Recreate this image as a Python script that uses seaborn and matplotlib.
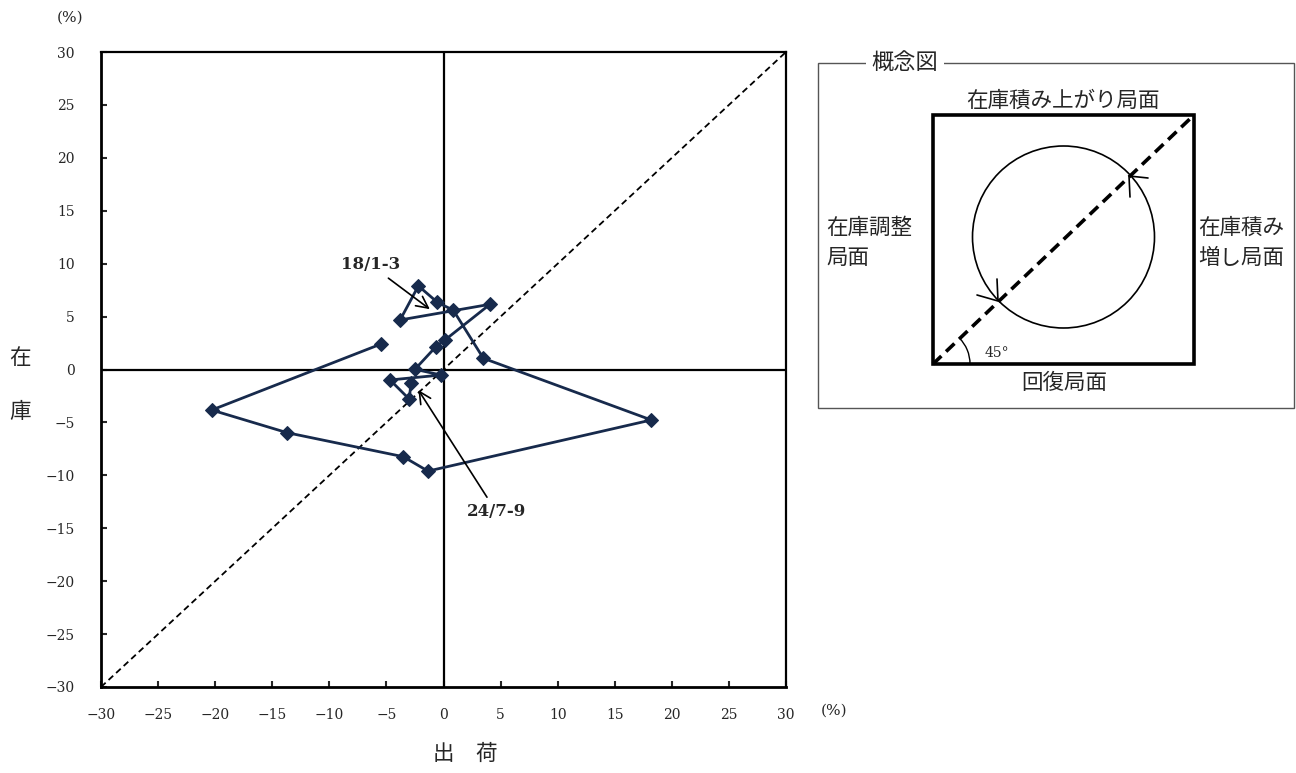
import matplotlib
matplotlib.use("Agg")
import matplotlib.pyplot as plt
import seaborn as sns
import pandas as pd
from matplotlib.patches import Rectangle, Circle, Arc

# ---- data (shipments YoY %, inventory YoY %) in path order ----
shipments = [-5.47, -20.3, -13.7, -3.52, -1.36, 18.2, 3.49, 0.86, -0.54, -2.2,
             -3.8, 4.07, 0.13, -0.66, -2.5, -0.22, -4.68, -3.0, -2.85]
inventory = [2.41, -3.83, -5.97, -8.24, -9.6, -4.77, 1.06, 5.6, 6.35, 7.9,
             4.68, 6.16, 2.79, 2.16, 0.02, -0.52, -0.99, -2.8, -1.3]
ticks = list(range(-30, 31, 5))
start_label = "18/1-3"
start_point = (-1.2, 5.7)
end_label = "24/7-9"
end_point = (-2.2, -1.94)

sns.set_style("white")
plt.rcParams["font.family"] = ["DejaVu Serif", "Noto Sans CJK JP"]
plt.rcParams["axes.unicode_minus"] = True
JP = ["Noto Sans CJK JP", "DejaVu Sans"]

W, H = 1296, 773
fig = plt.figure(figsize=(W / 100, H / 100), dpi=100)

def fx(px):
    return px / W

def fy(py):
    return 1 - py / H

# ---- main scatter/path chart ----
ax = fig.add_axes([fx(101), fy(687), fx(786) - fx(101), fy(52) - fy(687)])
df = pd.DataFrame({"出荷": shipments, "在庫": inventory})
ax.axhline(0, color="black", lw=1.6, zorder=2)
ax.axvline(0, color="black", lw=1.6, zorder=2)
ax.plot([ticks[0], ticks[-1]], [ticks[0], ticks[-1]], ls=(0, (3.5, 2.2)),
        color="black", lw=1.3, zorder=2)
sns.lineplot(data=df, x="出荷", y="在庫", sort=False, estimator=None, ax=ax,
             color="#172a4c", lw=2.0, marker="D", markersize=7,
             markeredgecolor="#172a4c", zorder=5)
ax.set_xlim(ticks[0], ticks[-1])
ax.set_ylim(ticks[0], ticks[-1])
ax.set_xticks(ticks)
ax.set_yticks(ticks)
ax.set_xlabel("")
ax.set_ylabel("")
ax.tick_params(axis="both", direction="in", length=4, width=1.5,
               labelsize=10, bottom=True, left=True, top=False, right=False)
ax.tick_params(axis="x", pad=15)
ax.tick_params(axis="y", pad=19)
for s in ["left", "bottom"]:
    ax.spines[s].set_linewidth(2.0)
for s in ["top", "right"]:
    ax.spines[s].set_linewidth(1.6)
for s in ax.spines.values():
    s.set_color("black")

arrow = dict(arrowstyle="->,head_length=0.7,head_width=0.35", color="black",
             lw=1.2, shrinkA=2, shrinkB=0)
ax.annotate(start_label, xy=start_point, xytext=(-6.4, 9.9), ha="center",
            va="center", fontsize=12, fontweight="bold", arrowprops=arrow, zorder=6)
ax.annotate(end_label, xy=end_point, xytext=(4.6, -13.4), ha="center",
            va="center", fontsize=12, fontweight="bold", arrowprops=arrow, zorder=6)

fig.text(fx(70), fy(18), "(%)", ha="center", va="center", fontsize=11)
fig.text(fx(834), fy(711), "(%)", ha="center", va="center", fontsize=11)
fig.text(fx(20), fy(358), "在", ha="center", va="center", fontsize=15.5, family=JP)
fig.text(fx(20), fy(412), "庫", ha="center", va="center", fontsize=15.5, family=JP)
fig.text(fx(465), fy(754), "出　荷", ha="center", va="center", fontsize=15.5, family=JP)

# ---- concept diagram ----
bx0, by0, bx1, by1 = 817, 62, 1294, 408
ax2 = fig.add_axes([fx(bx0), fy(by1), fx(bx1) - fx(bx0), fy(by0) - fy(by1)])
ax2.set_xlim(bx0, bx1)
ax2.set_ylim(by1, by0)
ax2.axis("off")
ax2.add_patch(Rectangle((bx0 + 0.5, by0 + 0.5), bx1 - bx0 - 1, by1 - by0 - 1,
                        fill=False, ec="#555555", lw=1.0, clip_on=False))
sq0, sq1, sq2, sq3 = 933, 115, 1194, 364
ax2.add_patch(Rectangle((sq0, sq1), sq2 - sq0, sq3 - sq1, fill=False,
                        ec="black", lw=2.6, clip_on=False))
ax2.add_patch(Circle((1063.5, 237), 91, fill=False, ec="black", lw=1.2))
ax2.plot([sq0, sq2], [sq3, sq1], color="black", lw=2.6, ls=(0, (3.2, 1.8)),
         solid_capstyle="butt")
ax2.add_patch(Arc((sq0, sq3), 74, 74, theta1=315, theta2=360, ec="black", lw=1.0))
ax2.plot([1148, 1129, 1130], [178, 176, 197], color="black", lw=1.2)
ax2.plot([977, 998, 997], [295, 301, 279], color="black", lw=1.2)

ax2.text(905, 62, "概念図", ha="center", va="center", fontsize=16, family=JP,
         bbox=dict(fc="white", ec="none", pad=4), clip_on=False)
ax2.text(1063, 101, "在庫積み上がり局面", ha="center", va="center", fontsize=15.5, family=JP)
ax2.text(826, 243, "在庫調整\n局面", ha="left", va="center", fontsize=15.5,
         family=JP, linespacing=1.45)
ax2.text(1198, 243, "在庫積み\n増し局面", ha="left", va="center", fontsize=15.5,
         family=JP, linespacing=1.45)
ax2.text(1064, 383, "回復局面", ha="center", va="center", fontsize=15.5, family=JP)
ax2.text(997, 353, "45°", ha="center", va="center", fontsize=10)

fig.savefig("out.png", dpi=100)
